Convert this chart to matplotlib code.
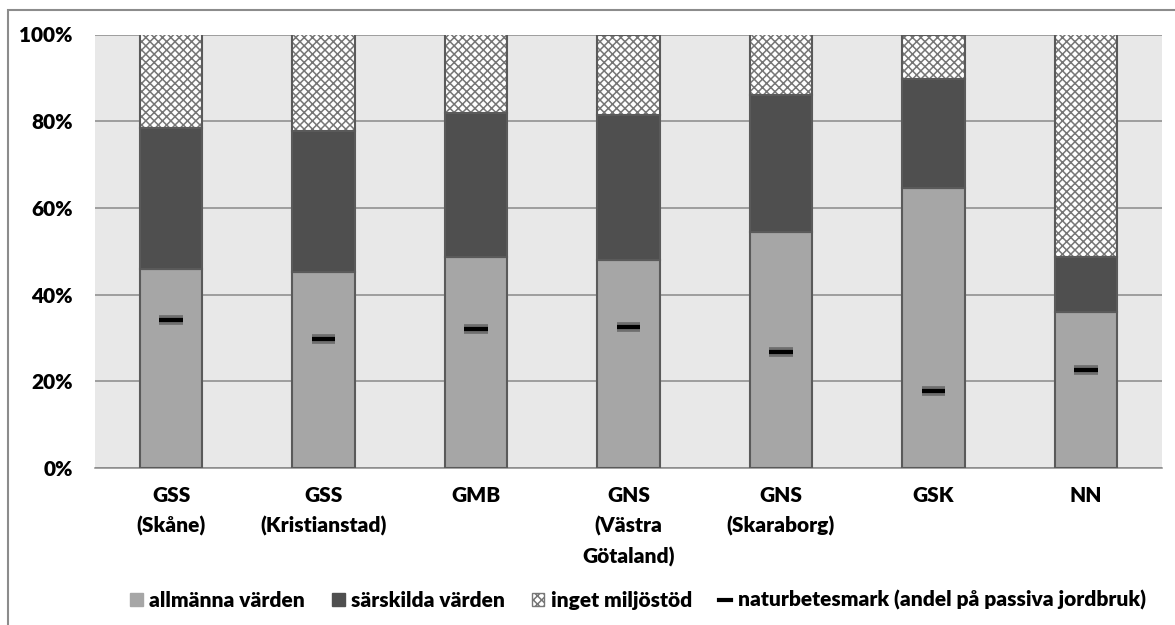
import matplotlib
matplotlib.use("Agg")
import matplotlib.pyplot as plt
from matplotlib.patches import Patch, Rectangle
from matplotlib.lines import Line2D
import matplotlib.patheffects as pe
import numpy as np

categories = ["GSS\n(Skåne)", "GSS\n(Kristianstad)", "GMB", "GNS\n(Västra\nGötaland)",
              "GNS\n(Skaraborg)", "GSK", "NN"]
allmanna = [45.9, 45.2, 48.6, 47.9, 54.5, 64.6, 36.1]
sarskilda = [32.5, 32.6, 33.4, 33.5, 31.6, 25.1, 12.5]
inget = [21.6, 22.2, 18.0, 18.6, 13.9, 10.3, 51.4]
naturbete = [34.1, 29.7, 32.0, 32.5, 26.8, 17.8, 22.6]
ytick_vals = [0, 20, 40, 60, 80, 100]
ytick_labels = ["0%", "20%", "40%", "60%", "80%", "100%"]
legend_labels = ["allmänna värden", "särskilda värden", "inget miljöstöd",
                 "naturbetesmark (andel på passiva jordbruk)"]

plt.rcParams["font.family"] = ["Lato", "DejaVu Sans"]
plt.rcParams["font.weight"] = "heavy"
plt.rcParams["hatch.linewidth"] = 1.1

FS = 15
C_ALLM = "#a6a6a6"
C_SARS = "#4f4f4f"
C_EDGE = "#5a5a5a"
C_HATCH = "#767676"
C_BG = "#e8e8e8"
C_GRID = "#8a8a8a"

fig = plt.figure(figsize=(11.75, 6.25), dpi=100)
ax = fig.add_axes([95 / 1175, 1 - 468 / 625, 1067 / 1175, (468 - 34.5) / 625])
ax.set_facecolor(C_BG)

x = np.arange(len(categories))
w = 0.41
b1 = np.array(allmanna)
b2 = b1 + np.array(sarskilda)

ax.bar(x, allmanna, w, color=C_ALLM, edgecolor=C_EDGE, linewidth=1.5, zorder=3)
ax.bar(x, sarskilda, w, bottom=b1, color=C_SARS, edgecolor=C_EDGE, linewidth=1.5, zorder=3)
ax.bar(x, inget, w, bottom=b2, color="white", edgecolor=C_HATCH, hatch="xxxx",
       linewidth=0, zorder=3)
ax.bar(x, inget, w, bottom=b2, fill=False, edgecolor=C_EDGE, linewidth=1.5, zorder=4)

ax.plot(x, naturbete, linestyle="none", marker="_", markersize=17, markeredgewidth=3,
        color="black", zorder=5,
        path_effects=[pe.Stroke(linewidth=7, foreground="#6e6e6e"), pe.Normal()])

ax.set_xlim(-0.5, len(categories) - 0.5)
ax.set_ylim(0, 100)
ax.set_yticks(ytick_vals)
ax.set_yticklabels(ytick_labels)
ax.set_xticks(x)
ax.set_xticklabels(categories, linespacing=1.65)
ax.tick_params(axis="both", length=0, labelsize=FS, colors="black")
ax.tick_params(axis="y", pad=16)
ax.tick_params(axis="x", pad=13)
ax.yaxis.grid(True, color=C_GRID, linewidth=1.1, zorder=0)
ax.set_axisbelow(True)
for s in ["left", "right", "top"]:
    ax.spines[s].set_visible(False)
ax.spines["bottom"].set_color(C_GRID)
ax.spines["bottom"].set_linewidth(1.1)

handles = [
    Patch(facecolor=C_ALLM, edgecolor=C_ALLM),
    Patch(facecolor=C_SARS, edgecolor=C_SARS),
    Patch(facecolor="white", edgecolor=C_HATCH, hatch="xxxx", linewidth=1),
    Line2D([], [], color="black", linewidth=3),
]
fig.legend(handles, legend_labels, loc="center", bbox_to_anchor=(0.543, 1 - 600 / 625),
           ncol=4, frameon=False, fontsize=FS, handlelength=0.6, handleheight=0.6,
           handletextpad=0.3, columnspacing=1.3)

# chart frame
fig.add_artist(Rectangle((8 / 1175, -0.1), 1.5, 1.1 - 10 / 625, transform=fig.transFigure,
                         fill=False, edgecolor="#8c8c8c", linewidth=1.5))

fig.savefig("out.png", dpi=100, facecolor="white")
